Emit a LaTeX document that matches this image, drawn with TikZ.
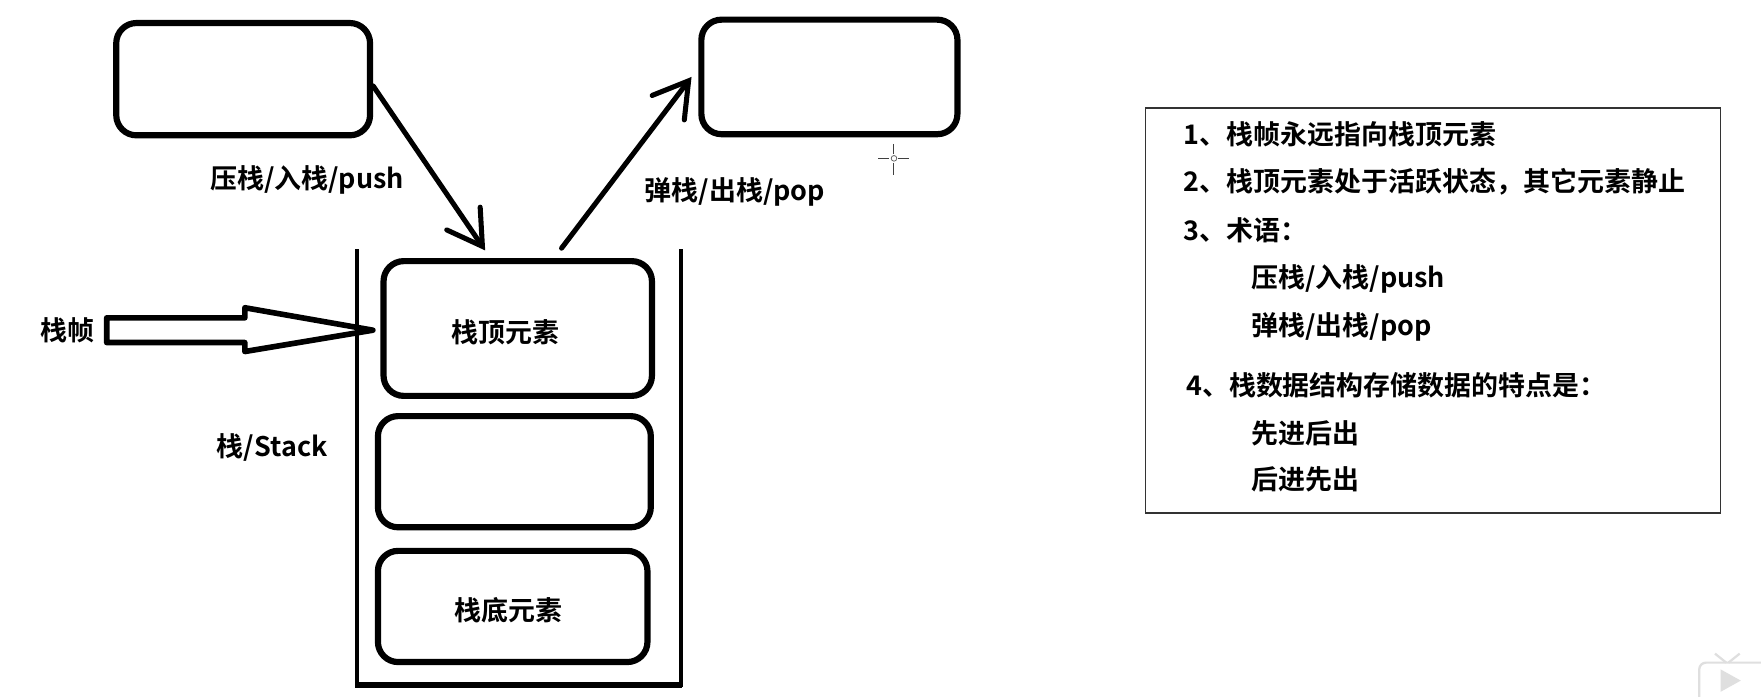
\documentclass[tikz,border=0pt]{standalone}
\usepackage{fontspec}
\newfontfamily\cjk{Noto Sans CJK SC}[BoldFont={Noto Sans CJK SC Bold}]
\usetikzlibrary{arrows.meta,calc}
\begin{document}
\begin{tikzpicture}[x=1pt,y=-1pt,
  txt/.style={font=\cjk\bfseries\fontsize{24}{28}\selectfont, inner sep=0pt},
  cell/.style={draw, line width=5.5pt, rounded corners=18pt, inner sep=0pt},
  flow/.style={line width=4.5pt, line cap=round,
     -{Straight Barb[length=30pt,width=36pt,line cap=round]}},
]
\useasboundingbox (0,0) rectangle (1568,620);
\fill[white] (0,0) rectangle (1568,620);

% outer boxes
\node[cell, minimum width=226pt, minimum height=100pt] (src) at (216.5,70.5) {};
\node[cell, minimum width=228pt, minimum height=102pt] (dst) at (738.5,68.5) {};

% stack cells
\node[cell, minimum width=239pt, minimum height=120pt] (topc) at (461,292.5) {};
\node[cell, minimum width=243pt, minimum height=99pt] (midc) at (458,420) {};
\node[cell, minimum width=240pt, minimum height=99pt] (botc) at (456.5,540) {};
\node[txt] (topl) at (450,296) {栈顶元素};
\node[txt] (botl) at (453,543) {栈底元素};

% container
\coordinate (cl) at (318,222);
\coordinate (cr) at (606,222);
\draw[line width=3.5pt] (cl) -- (318,610) -- (606,610) -- (cr);
\draw[line width=5pt] (316.5,610) -- (607.5,610);

% push / pop arrows
\coordinate (pushTip) at (432,223);
\coordinate (popTail) at (500,221);
\draw[flow] ([yshift=-6pt]src.east) -- (pushTip);
\draw[flow] (popTail) -- ([xshift=-6pt]dst.west);

\node[txt, anchor=west] (pushl) at (187,160) {压栈/入栈/push};
\node[txt, anchor=west] (popl) at (574,171) {弹栈/出栈/pop};
\node[txt, anchor=west] (stackl) at (193,398) {栈/Stack};

% stack frame pointer
\node[txt] (fp) at (60,294) {栈帧};
\draw[line width=5pt, line join=round]
  (95,283) -- (218,283) -- (218,274) -- (332,294) -- (218,313) -- (218,305) -- (95,305) -- cycle;

% cursor crosshair
\draw[black!75, line width=0.9pt] (796,128) -- (796,137) (796,145) -- (796,156)
  (782,141) -- (792,141) (800,141) -- (809,141);
\draw[black!60, line width=0.7pt] (796,141) circle (2.5pt);

% notes box
\draw[black!80, line width=1.5pt] (1020,96) rectangle (1532,457);
\node[txt, anchor=west] (n1) at (1054,120) {1、栈帧永远指向栈顶元素};
\node[txt, anchor=west] (n2) at (1054,162) {2、栈顶元素处于活跃状态，其它元素静止};
\node[txt, anchor=west] (n3) at (1054,205) {3、术语：};
\node[txt, anchor=west] (n4) at (1114,248) {压栈/入栈/push};
\node[txt, anchor=west] (n5) at (1114,291) {弹栈/出栈/pop};
\node[txt, anchor=west] (n6) at (1056,343) {4、栈数据结构存储数据的特点是：};
\node[txt, anchor=west] (n7) at (1114,386) {先进后出};
\node[txt, anchor=west] (n8) at (1114,427) {后进先出};

% faint player icon
\begin{scope}
\clip (0,0) rectangle (1568,620);
\draw[gray!25, line width=2pt, rounded corners=6pt] (1513,590) rectangle (1580,630);
\draw[gray!25, line width=2pt] (1527,582) -- (1537,590) (1549,582) -- (1539,590);
\fill[gray!25] (1532,596) -- (1532,616) -- (1550,606) -- cycle;
\end{scope}
\end{tikzpicture}
\end{document}
